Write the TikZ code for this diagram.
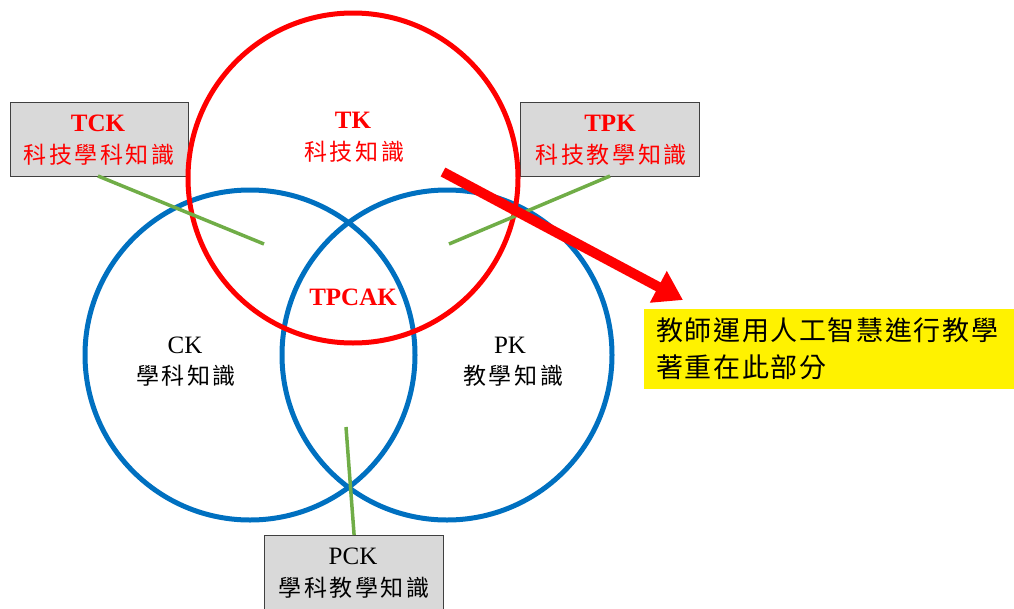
\documentclass[tikz,border=0pt]{standalone}
\usepackage{fontspec}
\setmainfont{Liberation Serif}
\newfontfamily\cjk{Noto Sans CJK TC}
\newfontfamily\cjkwide[LetterSpace=11]{Noto Sans CJK TC}
\newfontfamily\cjkwidey[LetterSpace=6]{Noto Sans CJK TC}
\usetikzlibrary{arrows.meta}
\definecolor{vblue}{HTML}{0070C0}
\definecolor{vgreen}{HTML}{70AD47}
\definecolor{boxgray}{HTML}{D9D9D9}
\definecolor{boxline}{HTML}{404040}
\begin{document}
\begin{tikzpicture}[x=1pt,y=-1pt,
  bluecirc/.style={draw=vblue,line width=5pt},
  redcirc/.style={draw=red,line width=5pt},
  graybox/.style={draw=boxline,fill=boxgray,line width=1.2pt,inner sep=0pt,anchor=north west},
  lat/.style={inner sep=0pt,font=\fontsize{25}{25}\selectfont},
  latb/.style={inner sep=0pt,font=\fontsize{25}{25}\selectfont\bfseries},
  zh/.style={inner sep=0pt,xshift=1.2pt,font=\fontsize{23}{23}\selectfont\cjkwide},
  leader/.style={draw=vgreen,line width=3.5pt},
  bigarrow/.style={draw=red,line width=10pt,-{Triangle[width=34pt,length=28pt]}}
]
\useasboundingbox (0,0) rectangle (1014,608);
\clip (0,0) rectangle (1014,608);
% boxes
\node[graybox,minimum width=178pt,minimum height=74pt] (tckbox) at (10,102) {};
\node[graybox,minimum width=179pt,minimum height=74pt] (tpkbox) at (520,102) {};
\node[graybox,minimum width=179pt,minimum height=90pt] (pckbox) at (264,535) {};
\node[fill=yellow,inner sep=0pt,anchor=north west,minimum width=372pt,minimum height=80pt] (ybox) at (644,309) {};
% circles
\node[bluecirc,circle,minimum size=330pt,inner sep=0pt] (ck) at (250,355) {};
\node[bluecirc,circle,minimum size=330pt,inner sep=0pt] (pk) at (447,355) {};
\node[redcirc,circle,minimum size=330pt,inner sep=0pt] (tk) at (353,178) {};
% texts
\node[latb,text=red] (tcklat) at (98,123) {TCK};
\node[zh,text=red] (tckzh) at (98,155) {科技學科知識};
\node[latb,text=red] (tpklat) at (610,123) {TPK};
\node[zh,text=red] (tpkzh) at (610,155) {科技教學知識};
\node[latb,text=red] (tklat) at (353,120) {TK};
\node[zh,text=red] (tkzh) at (353,152) {科技知識};
\node[latb,text=red] (tpcak) at (353,297) {TPCAK};
\node[lat] (cklat) at (185,345) {CK};
\node[zh] (ckzh) at (185,376) {學科知識};
\node[lat] (pklat) at (510,345) {PK};
\node[zh] (pkzh) at (512,376) {教學知識};
\node[lat] (pcklat) at (353,556) {PCK};
\node[zh] (pckzh) at (353,588) {學科教學知識};
\node[inner sep=0pt,anchor=west,font=\fontsize{27}{27}\selectfont\cjkwidey] (y1) at (656,330) {教師運用人工智慧進行教學};
\node[inner sep=0pt,anchor=west,font=\fontsize{27}{27}\selectfont\cjkwidey] (y2) at (656,367) {著重在此部分};
% leader lines
\coordinate (tckend) at (264,244);
\coordinate (tpkend) at (449,244);
\coordinate (pckend) at (346,427);
\draw[leader] (98,176) -- (tckend);
\draw[leader] (610,176) -- (tpkend);
\draw[leader] (pckbox.north) -- (pckend);
% arrow
\coordinate (arrstart) at (443,172);
\coordinate (arrend) at (683,300);
\draw[bigarrow] (arrstart) -- (arrend);
\end{tikzpicture}
\end{document}
